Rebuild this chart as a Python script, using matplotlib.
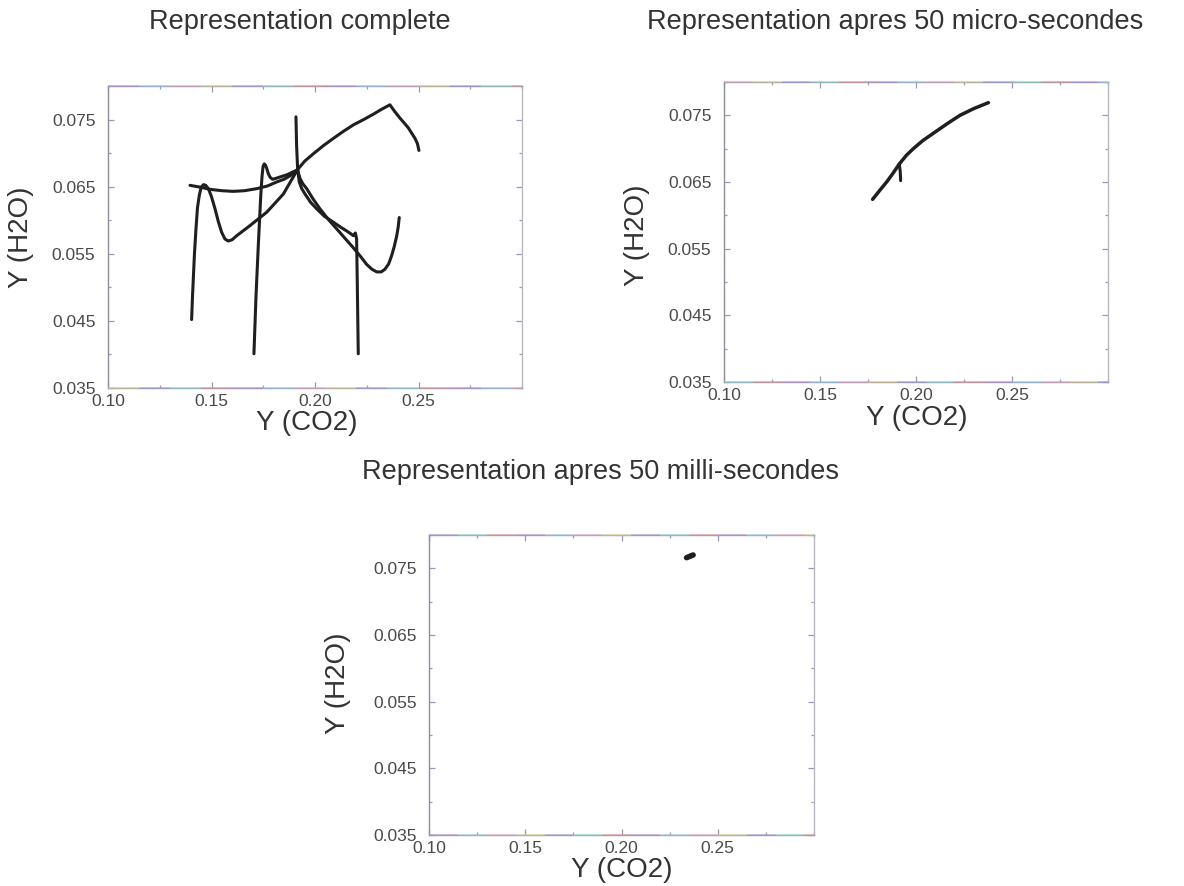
import matplotlib
matplotlib.use('Agg')
import matplotlib.pyplot as plt
from matplotlib.collections import LineCollection
from matplotlib.ticker import MultipleLocator, FixedLocator, FixedFormatter

plt.rcParams.update({
    'font.family': ['Liberation Sans', 'DejaVu Sans'],
    'font.size': 12,
})

W, H = 1184, 886

# Y(CO2) / Y(H2O) trajectories, full run
traj_a_x = [0.1404, 0.1408, 0.1412, 0.1418, 0.1425, 0.1432, 0.1441, 0.1450, 0.1461,
            0.1472, 0.1485, 0.1500, 0.1517, 0.1533, 0.1549, 0.1565, 0.1581, 0.1600,
            0.1622, 0.1686, 0.1767, 0.1847, 0.1915]
traj_a_y = [0.0452, 0.0485, 0.0512, 0.0552, 0.0587, 0.0618, 0.0637, 0.0649, 0.0653,
            0.0652, 0.0647, 0.0635, 0.0617, 0.0598, 0.0582, 0.0572, 0.0569, 0.0571,
            0.0577, 0.0592, 0.0612, 0.0639, 0.0675]

traj_b_x = [0.1396, 0.1450, 0.1493, 0.1550, 0.1605, 0.1660, 0.1718, 0.1770, 0.1815,
            0.1850, 0.1879, 0.1915]
traj_b_y = [0.0652, 0.0649, 0.0646, 0.0644, 0.0643, 0.0644, 0.0647, 0.0651, 0.0657,
            0.0661, 0.0666, 0.0675]

traj_c_x = [0.1705, 0.1715, 0.1726, 0.1738, 0.1744, 0.1749, 0.1755, 0.1761, 0.1767,
            0.1775, 0.1783, 0.1795, 0.1807, 0.1827, 0.1847, 0.1867, 0.1887, 0.1915]
traj_c_y = [0.0401, 0.0487, 0.0562, 0.0637, 0.0665, 0.0680, 0.0684, 0.0682, 0.0677,
            0.0669, 0.0664, 0.0661, 0.0662, 0.0664, 0.0666, 0.0668, 0.0671, 0.0675]

traj_d_x = [0.1908, 0.1911, 0.1916, 0.1924, 0.1936, 0.1952, 0.1978, 0.2008, 0.2045,
            0.2089, 0.2122, 0.2153, 0.2172, 0.2185, 0.2195, 0.2201, 0.2204, 0.2209]
traj_d_y = [0.0754, 0.0712, 0.0677, 0.0657, 0.0647, 0.0639, 0.0627, 0.0617, 0.0606,
            0.0597, 0.0590, 0.0584, 0.0580, 0.0577, 0.0581, 0.0572, 0.0512, 0.0401]

traj_e_x = [0.1915, 0.1928, 0.1942, 0.1960, 0.1990, 0.2024, 0.2065, 0.2105, 0.2145,
            0.2185, 0.2220, 0.2250, 0.2275, 0.2298, 0.2320, 0.2338, 0.2356, 0.2370,
            0.2383, 0.2395, 0.2402, 0.2407]
traj_e_y = [0.0675, 0.0662, 0.0654, 0.0647, 0.0632, 0.0617, 0.0601, 0.0587, 0.0573,
            0.0559, 0.0546, 0.0534, 0.0527, 0.0523, 0.0523, 0.0527, 0.0535, 0.0547,
            0.0561, 0.0577, 0.0590, 0.0604]

arc_x = [0.1915, 0.1950, 0.1992, 0.2040, 0.2089, 0.2135, 0.2185, 0.2235, 0.2282,
         0.2320, 0.2362, 0.2385, 0.2411, 0.2450, 0.2483, 0.2495, 0.2502]
arc_y = [0.0675, 0.0688, 0.0699, 0.0711, 0.0722, 0.0732, 0.0742, 0.0750, 0.0758,
         0.0765, 0.0772, 0.0762, 0.0752, 0.0738, 0.0722, 0.0714, 0.0704]

# after 50 micro-seconds
micro_x = [0.1774, 0.1810, 0.1847, 0.1880, 0.1913, 0.1950, 0.1986, 0.2035, 0.2090,
           0.2160, 0.2229, 0.2300, 0.2377]
micro_y = [0.0624, 0.0637, 0.0650, 0.0663, 0.0677, 0.0690, 0.0700, 0.0712, 0.0723,
           0.0737, 0.0750, 0.0760, 0.0769]
hook_x = [0.1913, 0.1918, 0.1920]
hook_y = [0.0677, 0.0665, 0.0652]

# after 50 milli-seconds
milli_x = [0.2338, 0.2372]
milli_y = [0.0766, 0.0770]

x_ticks = [0.10, 0.15, 0.20, 0.25]
x_labels = ['0.10', '0.15', '0.20', '0.25']
y_ticks = [0.035, 0.045, 0.055, 0.065, 0.075]
y_labels = ['0.035', '0.045', '0.055', '0.065', '0.075']

TEXT = '#333333'
TICK_TXT = '#4a4a4a'
LINE = '#1f1f1f'
FRINGE = ['#b98ad6', '#8fc8e6', '#e2a0bd', '#d4cc84', '#9a9ae0', '#88d2cc', '#dc9090']


def px_axes(left, top, right, bottom):
    return [left / W, 1 - bottom / H, (right - left) / W, (bottom - top) / H]


def fringe(ax, y, offset):
    # scanner colour fringe along the horizontal frame lines
    segs = []
    cols = []
    n = 40
    for i in range(n):
        segs.append([(i / n, y), ((i + 1) / n, y)])
        cols.append(FRINGE[(i // 3 + offset) % len(FRINGE)])
    lc = LineCollection(segs, colors=cols, linewidths=1.4, alpha=0.55,
                        transform=ax.transAxes, clip_on=False, zorder=5)
    ax.add_collection(lc)


def setup(ax, k):
    ax.set_xlim(0.10, 0.30)
    ax.set_ylim(0.035, 0.080)
    ax.xaxis.set_major_locator(FixedLocator(x_ticks))
    ax.xaxis.set_major_formatter(FixedFormatter(x_labels))
    ax.yaxis.set_major_locator(FixedLocator(y_ticks))
    ax.yaxis.set_major_formatter(FixedFormatter(y_labels))
    ax.xaxis.set_minor_locator(MultipleLocator(0.025))
    ax.yaxis.set_minor_locator(MultipleLocator(0.005))
    ax.tick_params(which='both', direction='in', top=True, right=True,
                   color='#a095b8', width=0.9)
    ax.tick_params(which='major', length=4, labelsize=12.5, labelcolor=TICK_TXT)
    ax.tick_params(which='minor', length=2.5)
    ax.tick_params(axis='x', pad=4)
    ax.tick_params(axis='y', pad=9)
    ax.spines['left'].set_color('#8e8e9c')
    ax.spines['right'].set_color('#b8b8c0')
    ax.spines['top'].set_color('#9c9cb0')
    ax.spines['bottom'].set_color('#9c9cb0')
    for s in ax.spines.values():
        s.set_linewidth(1.0)
    fringe(ax, 1.0, k)
    fringe(ax, 0.0, k + 3)


fig = plt.figure(figsize=(W / 100, H / 100), dpi=100)
fig.patch.set_facecolor('white')

# full run
ax1 = fig.add_axes(px_axes(108, 86, 522, 388))
setup(ax1, 0)
for xs, ys in [(traj_a_x, traj_a_y), (traj_b_x, traj_b_y), (traj_c_x, traj_c_y),
               (traj_d_x, traj_d_y), (traj_e_x, traj_e_y), (arc_x, arc_y)]:
    ax1.plot(xs, ys, color=LINE, lw=2.2, solid_joinstyle='round', solid_capstyle='round')

# 50 micro-seconds
ax2 = fig.add_axes(px_axes(724, 82, 1108, 382))
setup(ax2, 2)
ax2.plot(micro_x, micro_y, color=LINE, lw=2.5, solid_joinstyle='round', solid_capstyle='round')
ax2.plot(hook_x, hook_y, color=LINE, lw=2.2, solid_capstyle='round')

# 50 milli-seconds
ax3 = fig.add_axes(px_axes(429, 535, 814, 835))
setup(ax3, 4)
ax3.plot(milli_x, milli_y, color=LINE, lw=4, solid_capstyle='round')


def ftext(x, y, s, **kw):
    fig.text(x / W, 1 - y / H, s, ha='center', va='center', color=TEXT, **kw)


ftext(300, 22, 'Representation complete', fontsize=19.5)
ftext(895, 22, 'Representation apres 50 micro-secondes', fontsize=19.5)
ftext(600, 472, 'Representation apres 50 milli-secondes', fontsize=19.5)

ftext(307, 423, 'Y (CO2)', fontsize=20)
ftext(917, 418, 'Y (CO2)', fontsize=20)
ftext(622, 870, 'Y (CO2)', fontsize=20)

ftext(21, 237, 'Y (H2O)', fontsize=20, rotation=90)
ftext(637, 235, 'Y (H2O)', fontsize=20, rotation=90)
ftext(338, 683, 'Y (H2O)', fontsize=20, rotation=90)

fig.savefig('out.png', dpi=100)
